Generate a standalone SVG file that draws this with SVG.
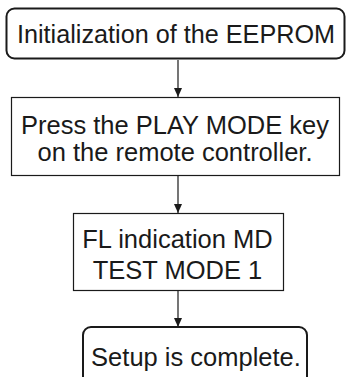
<svg xmlns="http://www.w3.org/2000/svg" width="347" height="377" viewBox="0 0 347 377">
<style>
text{font-family:"Liberation Sans",Arial,sans-serif;font-size:25.5px;fill:#1a1a1a;text-anchor:middle}
.r{fill:#fff;stroke:#1a1a1a;stroke-width:2}
.b{fill:#fff;stroke:#1a1a1a;stroke-width:1.2}
.c line{stroke:#1a1a1a;stroke-width:1.2}
</style>
<defs><marker id="a" markerWidth="10" markerHeight="10" refX="9" refY="5" orient="auto" markerUnits="userSpaceOnUse"><path d="M0,1 L9,5 L0,9 z" fill="#1a1a1a"/></marker></defs>
<g class="c">
<line x1="178" y1="60" x2="178" y2="97" marker-end="url(#a)"/>
<line x1="178" y1="176" x2="178" y2="213" marker-end="url(#a)"/>
<line x1="178" y1="291" x2="178" y2="327" marker-end="url(#a)"/>
</g>
<g id="n1"><rect class="r" x="6.5" y="8.5" width="338" height="50" rx="8"/><text x="176" y="43" textLength="318" lengthAdjust="spacingAndGlyphs">Initialization of the EEPROM</text></g>
<g id="n2"><rect class="b" x="11.5" y="97.5" width="328" height="78"/><text x="175" y="134">Press the PLAY MODE key</text><text x="175" y="161">on the remote controller.</text></g>
<g id="n3"><rect class="b" x="73.5" y="213.5" width="210" height="77"/><text x="177.5" y="248">FL indication MD</text><text x="177.5" y="279">TEST MODE 1</text></g>
<g id="n4"><rect class="r" x="83" y="327" width="224" height="60" rx="8"/><text x="196" y="366">Setup is complete.</text></g>
</svg>
